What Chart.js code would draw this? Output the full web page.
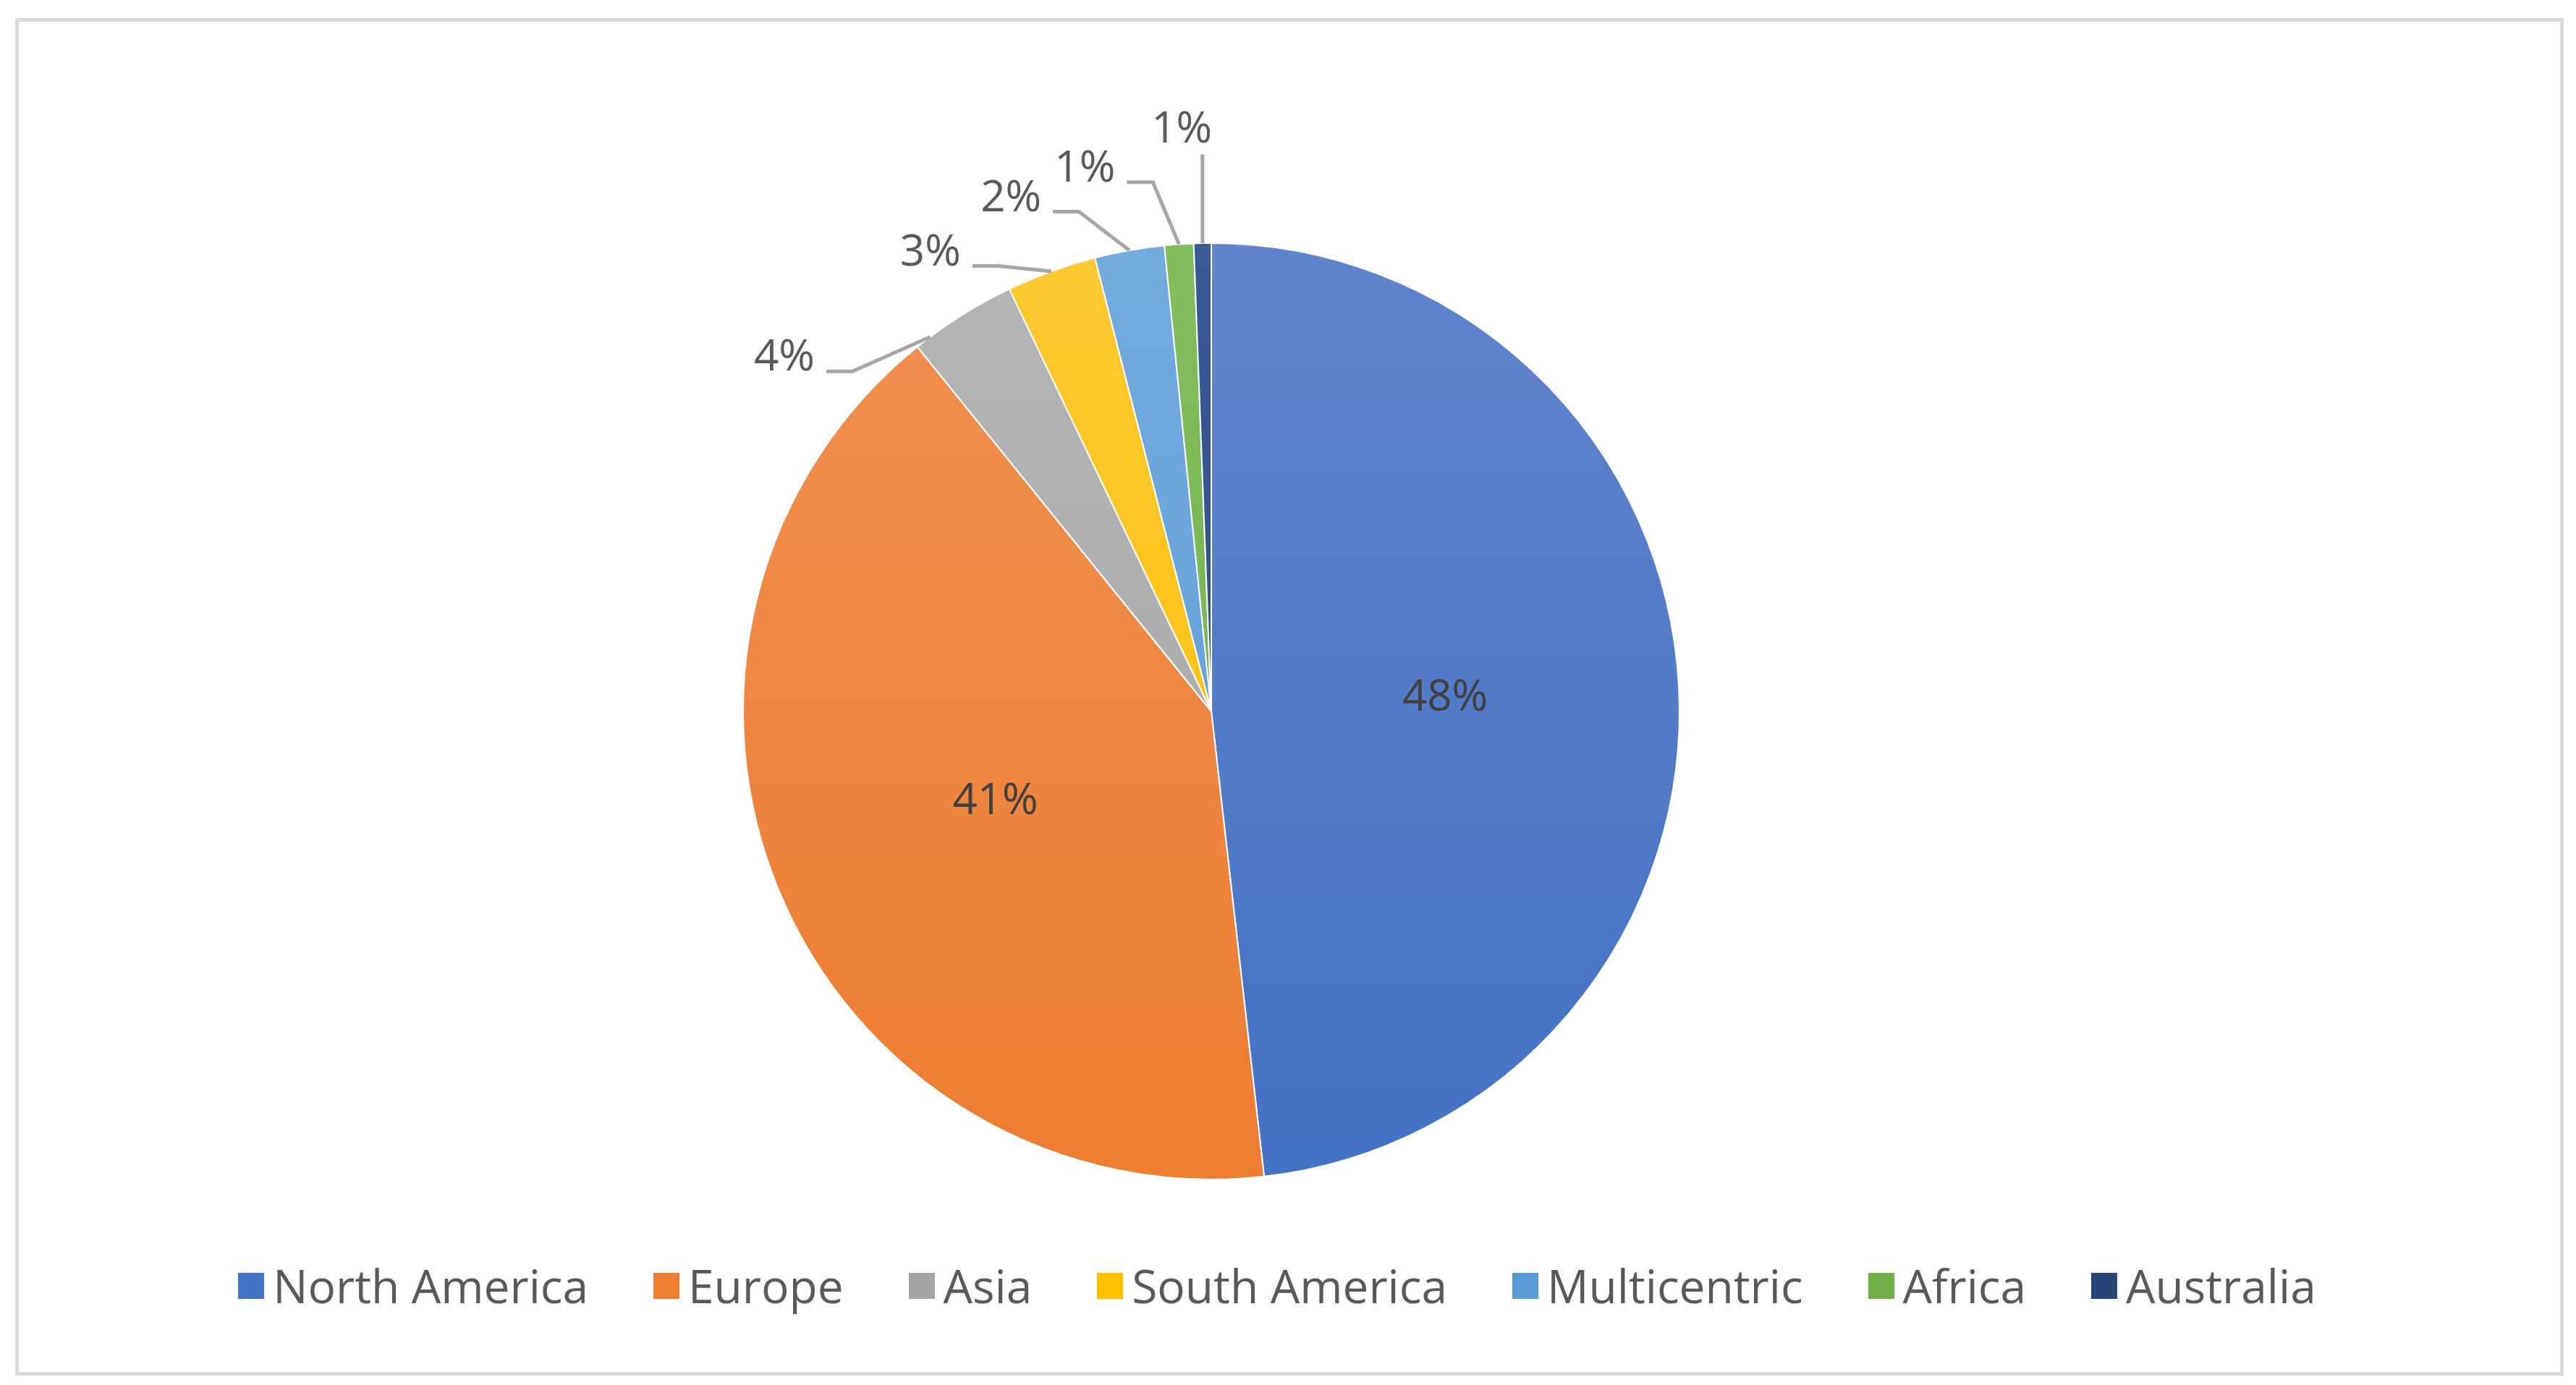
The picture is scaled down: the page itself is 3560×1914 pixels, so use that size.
<!DOCTYPE html>
<html>
<head>
<meta charset="utf-8">
<script src="https://cdn.jsdelivr.net/npm/chart.js@4"></script>
<style>
  body { margin: 0; background: #fff; }
  #wrap { position: relative; width: 3560px; height: 1914px; }
  #frame { position: absolute; left: 21px; top: 25px; width: 3512px; height: 1866px; border: 5px solid #d9d9d9; }
  #chart { position: absolute; left: 0; top: 0; }
  #legend { position: absolute; left: 0; width: 3620px; top: 1733px; display: flex; justify-content: center;
    font-family: "Open Sans", sans-serif; font-size: 64px; color: #595959; }
  #legend span.item { display: flex; align-items: center; margin: 0 90px 0 0; }
  #legend span.box { width: 36px; height: 36px; margin-right: 12px; display: inline-block; }
</style>
</head>
<body>
<div id="wrap">
  <div id="frame"></div>
  <canvas id="chart" width="3560" height="1914"></canvas>
  <div id="legend"></div>
</div>
<script>
const regions = ['North America', 'Europe', 'Asia', 'South America', 'Multicentric', 'Africa', 'Australia'];
const shares = [48.2, 41.0, 3.7, 3.1, 2.4, 1.0, 0.6];
const pctLabels = ['48%', '41%', '4%', '3%', '2%', '1%', '1%'];
const colors = ['#4472C4', '#ED7D31', '#A5A5A5', '#FFC000', '#5B9BD5', '#70AD47', '#264478'];
const lightColors = ['#6183CC', '#F09153', '#B5B5B5', '#FFC933', '#74ABDD', '#84BD5E', '#3A5A96'];

// where the outside labels sit, relative to the centre in radius units
const outsideSpots = { 2: [-0.912, -0.754], 3: [-0.60, -0.979], 4: [-0.428, -1.095], 5: [-0.27, -1.158], 6: [-0.063, -1.242] };

const legendEl = document.getElementById('legend');
regions.forEach((name, i) => {
  const item = document.createElement('span');
  item.className = 'item';
  item.innerHTML = '<span class="box" style="background:' + colors[i] + '"></span>' + name;
  legendEl.appendChild(item);
});

const labelPlugin = {
  id: 'pctLabels',
  afterDatasetsDraw(chart) {
    const ctx = chart.ctx;
    const arcs = chart.getDatasetMeta(0).data;
    ctx.save();
    ctx.font = '60px "Open Sans", sans-serif';
    ctx.textAlign = 'center';
    ctx.textBaseline = 'middle';
    arcs.forEach((arc, i) => {
      const cx = arc.x, cy = arc.y, r = arc.outerRadius;
      const mid = (arc.startAngle + arc.endAngle) / 2;
      if (!outsideSpots[i]) {
        ctx.fillStyle = '#404040';
        ctx.fillText(pctLabels[i], cx + Math.cos(mid) * r * 0.5, cy + Math.sin(mid) * r * 0.5);
        return;
      }
      const tx = cx + outsideSpots[i][0] * r;
      const ty = cy + outsideSpots[i][1] * r;
      // asia's leader lands near its lower edge, like the original
      const a = i === 2 ? arc.startAngle + (arc.endAngle - arc.startAngle) * 0.15 : mid;
      const ex = cx + Math.cos(a) * r;
      const ey = cy + Math.sin(a) * r;
      ctx.strokeStyle = '#a6a6a6';
      ctx.lineWidth = 5;
      ctx.beginPath();
      if (i === 6) {
        ctx.moveTo(ex, ty + 34);
        ctx.lineTo(ex, ey);
      } else {
        const sx = tx + 58;
        ctx.moveTo(sx, ty + 18);
        ctx.lineTo(sx + 36, ty + 18);
        ctx.lineTo(ex, ey);
      }
      ctx.stroke();
      ctx.fillStyle = '#595959';
      ctx.fillText(pctLabels[i], tx, ty);
    });
    ctx.restore();
  }
};

const ctx = document.getElementById('chart').getContext('2d');
new Chart(ctx, {
  type: 'pie',
  data: {
    labels: regions,
    datasets: [{
      data: shares,
      backgroundColor: (c) => {
        const area = c.chart.chartArea;
        if (!area) return colors[c.dataIndex];
        const g = c.chart.ctx.createLinearGradient(0, area.top, 0, area.bottom);
        g.addColorStop(0, lightColors[c.dataIndex]);
        g.addColorStop(1, colors[c.dataIndex]);
        return g;
      },
      borderColor: '#ffffff',
      borderWidth: 2
    }]
  },
  options: {
    responsive: false,
    animation: false,
    layout: { padding: { top: 335, bottom: 283, left: 0, right: 212 } },
    plugins: {
      legend: { display: false },
      tooltip: { enabled: false }
    }
  },
  plugins: [labelPlugin]
});
</script>
</body>
</html>
